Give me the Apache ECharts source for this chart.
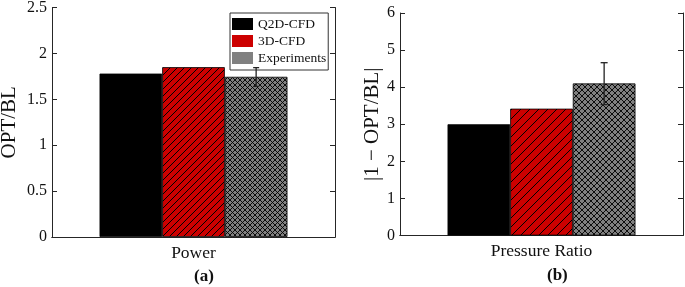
<!DOCTYPE html>
<html>
<head>
<meta charset="utf-8">
<script src="https://cdn.jsdelivr.net/npm/echarts@6/dist/echarts.min.js"></script>
<style>
  html, body { margin: 0; padding: 0; background: #fff; }
  #main { width: 685px; height: 287px; }
</style>
</head>
<body>
<div id="main"></div>
<script>
// data
var seriesNames = ['Q2D-CFD', '3D-CFD', 'Experiments'];
var catsA = ['Power'];
var catsB = ['Pressure Ratio'];
var valuesA = [1.78, 1.85, 1.745];   // OPT/BL
var valuesB = [3.0, 3.42, 4.1];      // |1 - OPT/BL|
var errA = [1.64, 1.845];            // experiment error bar low/high
var errB = [3.53, 4.66];
var ticksA = { min: 0, max: 2.5, interval: 0.5 };
var ticksB = { min: 0, max: 6, interval: 1 };

var FONT = 'Liberation Serif';
var AX = '#262626';
var RED = '#cc0000', GREY = '#808080';
var GAP = 0.336;

function hatch(s) {
  var c = document.createElement('canvas');
  c.width = s; c.height = s;
  var g = c.getContext('2d');
  g.fillStyle = RED; g.fillRect(0, 0, s, s);
  g.strokeStyle = '#000'; g.lineWidth = 1;
  g.beginPath();
  g.moveTo(0, s); g.lineTo(s, 0);
  g.moveTo(-1, 1); g.lineTo(1, -1);
  g.moveTo(s - 1, s + 1); g.lineTo(s + 1, s - 1);
  g.stroke();
  return c;
}
function cross(s) {
  var c = document.createElement('canvas');
  c.width = s; c.height = s;
  var g = c.getContext('2d');
  g.fillStyle = GREY; g.fillRect(0, 0, s, s);
  g.strokeStyle = 'rgba(0,0,0,0.9)'; g.lineWidth = 1;
  g.beginPath();
  g.moveTo(0, 0); g.lineTo(s, s);
  g.moveTo(0, s); g.lineTo(s, 0);
  g.stroke();
  return c;
}

var fills = [
  ['#000', { image: hatch(7), repeat: 'repeat' }, { image: cross(5), repeat: 'repeat' }],
  ['#000', { image: hatch(9), repeat: 'repeat' }, { image: cross(6), repeat: 'repeat' }]
];

var grids = [
  { left: 52, top: 7.5, width: 283, height: 229.5, outerBoundsMode: 'none', containLabel: false },
  { left: 400, top: 13, width: 283, height: 222.5, outerBoundsMode: 'none', containLabel: false }
];

function xAxes(gi, cats) {
  return [
    {
      type: 'category', gridIndex: gi, data: cats, position: 'bottom',
      axisLine: { lineStyle: { color: AX, width: 1 } },
      axisTick: { inside: true, alignWithLabel: true, length: 4, lineStyle: { color: AX } },
      axisLabel: { color: '#111', fontFamily: FONT, fontSize: 17.5, margin: 7 }
    },
    {
      type: 'category', gridIndex: gi, data: cats, position: 'top',
      axisLine: { lineStyle: { color: AX, width: 1 } },
      axisTick: { inside: true, alignWithLabel: true, length: 4, lineStyle: { color: AX } },
      axisLabel: { show: false }
    }
  ];
}
function yAxes(gi, t, name, gap) {
  return [
    {
      type: 'value', gridIndex: gi, min: t.min, max: t.max, interval: t.interval,
      position: 'left', name: name, nameLocation: 'middle', nameGap: gap,
      nameTextStyle: { color: '#111', fontFamily: FONT, fontSize: 21 },
      axisLine: { show: true, lineStyle: { color: AX, width: 1 } },
      axisTick: { show: true, inside: true, length: 5, lineStyle: { color: AX } },
      axisLabel: { color: '#111', fontFamily: FONT, fontSize: 16, margin: 5 },
      splitLine: { show: false }
    },
    {
      type: 'value', gridIndex: gi, min: t.min, max: t.max, interval: t.interval,
      position: 'right',
      axisLine: { show: true, lineStyle: { color: AX, width: 1 } },
      axisTick: { show: true, inside: true, length: 5, lineStyle: { color: AX } },
      axisLabel: { show: false },
      splitLine: { show: false }
    }
  ];
}

function bars(gi, vals) {
  return vals.map(function (v, i) {
    return {
      name: seriesNames[i], type: 'bar', xAxisIndex: gi * 2, yAxisIndex: gi * 2,
      data: [v], barGap: '0%', barCategoryGap: (GAP * 100) + '%',
      itemStyle: { color: fills[gi][i], borderColor: '#000', borderWidth: 0.8 },
      emphasis: { disabled: true }
    };
  });
}

function errorBar(gi, err, cap) {
  return {
    type: 'custom', xAxisIndex: gi * 2, yAxisIndex: gi * 2, z: 10,
    data: [[0, err[0], err[1]]],
    encode: { x: 0, y: [1, 2] },
    renderItem: function (params, api) {
      var lo = api.coord([api.value(0), api.value(1)]);
      var hi = api.coord([api.value(0), api.value(2)]);
      var bw = api.size([1, 0])[0] * (1 - GAP) / 3;
      var x = lo[0] + bw;
      var st = { stroke: '#222', lineWidth: 1.3 };
      return {
        type: 'group',
        children: [
          { type: 'line', shape: { x1: x, y1: lo[1], x2: x, y2: hi[1] }, style: st },
          { type: 'line', shape: { x1: x - cap, y1: lo[1], x2: x + cap, y2: lo[1] }, style: st },
          { type: 'line', shape: { x1: x - cap, y1: hi[1], x2: x + cap, y2: hi[1] }, style: st }
        ]
      };
    }
  };
}

var chart = echarts.init(document.getElementById('main'), null, { renderer: 'canvas' });
chart.setOption({
  backgroundColor: '#fff',
  animation: false,
  grid: grids,
  xAxis: xAxes(0, catsA).concat(xAxes(1, catsB)),
  yAxis: yAxes(0, ticksA, 'OPT/BL', 32).concat(yAxes(1, ticksB, '|1 \u2212 OPT/BL|', 16)),
  legend: {
    orient: 'vertical', left: 230, top: 13,
    padding: [4, 2, 5, 2], itemGap: 3,
    itemWidth: 21, itemHeight: 12,
    backgroundColor: '#fff', borderColor: '#333', borderWidth: 1, borderRadius: 0,
    textStyle: { fontFamily: FONT, fontSize: 13.5, color: '#111' },
    data: [
      { name: seriesNames[0], icon: 'rect', itemStyle: { color: '#000', borderWidth: 0 } },
      { name: seriesNames[1], icon: 'rect', itemStyle: { color: RED, borderWidth: 0 } },
      { name: seriesNames[2], icon: 'rect', itemStyle: { color: GREY, borderWidth: 0 } }
    ]
  },
  graphic: [
    { type: 'text', left: 194, top: 268, style: { text: '(a)', font: 'bold 17px "' + FONT + '"', fill: '#111', align: 'center' } },
    { type: 'text', left: 547, top: 267, style: { text: '(b)', font: 'bold 17px "' + FONT + '"', fill: '#111', align: 'center' } }
  ],
  series: bars(0, valuesA).concat(bars(1, valuesB)).concat([errorBar(0, errA, 3), errorBar(1, errB, 3.5)])
});
</script>
</body>
</html>
